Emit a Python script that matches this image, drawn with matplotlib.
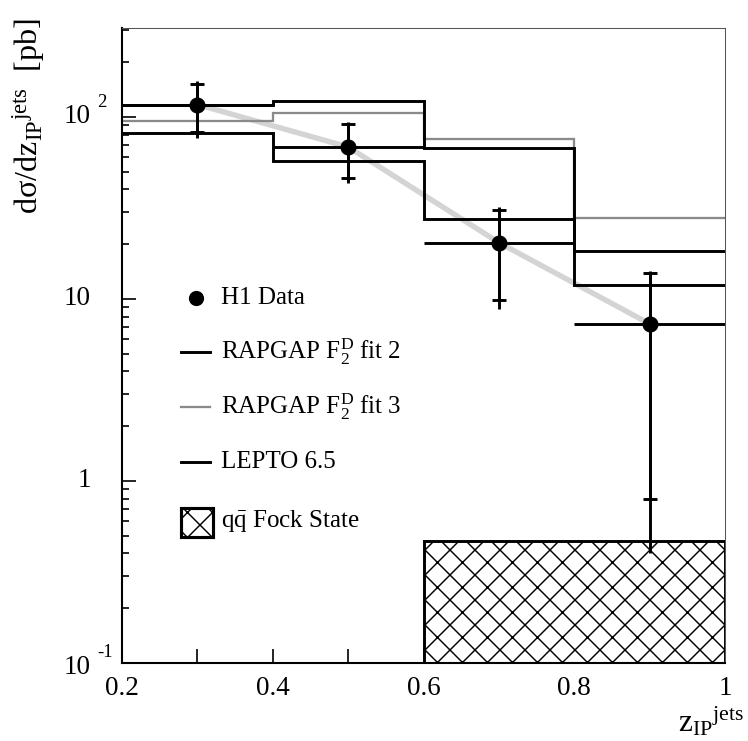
import matplotlib
matplotlib.use('Agg')
import matplotlib.pyplot as plt
from matplotlib.lines import Line2D
from matplotlib.patches import Rectangle
from matplotlib.ticker import LogLocator, NullFormatter

plt.rcParams['font.family'] = ['Liberation Serif', 'DejaVu Serif']
plt.rcParams['mathtext.fontset'] = 'custom'
plt.rcParams['mathtext.rm'] = 'Liberation Serif'
plt.rcParams['mathtext.it'] = 'Liberation Serif:italic'
plt.rcParams['hatch.linewidth'] = 0.7

# --- measured cross section, H1 ---
z_centres = [0.3, 0.5, 0.7, 0.9]
z_halfwidth = [0.1, 0.1, 0.1, 0.1]
h1_xsec = [117, 68.4, 20.4, 7.3]
h1_stat = [34, 22.5, 10.5, 6.5]
h1_tot = [40, 25, 11.6, 6.9]

# --- MC predictions (histograms) ---
bin_edges = [0.2, 0.4, 0.6, 0.8, 1.0]
rapgap_fit2 = [117, 122, 67.7, 12.0]
rapgap_fit3 = [95, 105, 75.4, 27.7]
lepto = [82, 57.3, 27.4, 18.4]
fock_edges = [0.6, 0.8, 1.0]
fock_xsec = [0.47, 0.47]

# --- axis ticks ---
xtick_major = [0.2, 0.4, 0.6, 0.8, 1.0]
xtick_labels = ['0.2', '0.4', '0.6', '0.8', '1']
xtick_minor = [0.3, 0.5, 0.7, 0.9]
ytick_vals = [0.1, 1, 10, 100]
ytick_base = ['10', '1', '10', '10']
ytick_exp = ['-1', '', '', '2']

W, H, DPI = 748, 741, 150


def fx(px):
    return px / W


def fy(py):
    return 1 - py / H


fig = plt.figure(figsize=(W / DPI, H / DPI), dpi=DPI)
ax = fig.add_axes([fx(122), fy(663), fx(725) - fx(122), fy(28) - fy(663)])
ax.set_yscale('log')
ax.set_xlim(0.2, 1.0)
ax.set_ylim(0.1, 308)

# grey band through the data points
ax.plot(z_centres, h1_xsec, color='#d4d4d4', lw=2.6, solid_capstyle='butt', zorder=1)

ax.stairs(rapgap_fit3, bin_edges, baseline=None, color='#8a8a8a', lw=1.1, zorder=2)
ax.stairs(rapgap_fit2, bin_edges, baseline=None, color='black', lw=1.4, zorder=3)
ax.stairs(lepto, bin_edges, baseline=None, color='black', lw=1.4, zorder=3)
ax.stairs(fock_xsec, fock_edges, baseline=0.1, fill=True, facecolor='white',
          edgecolor='black', hatch='xx', lw=1.4, zorder=2)

# total errors as plain lines, statistical errors with caps
ax.errorbar(z_centres, h1_xsec, xerr=z_halfwidth, yerr=h1_tot, fmt='none',
            ecolor='black', elinewidth=1.4, capsize=0, zorder=5)
ax.errorbar(z_centres, h1_xsec, yerr=h1_stat, fmt='o', color='black', ms=6.7,
            elinewidth=1.4, capsize=3.4, capthick=1.4, zorder=6)

for side in ['left', 'bottom']:
    ax.spines[side].set_linewidth(1.0)
for side in ['top', 'right']:
    ax.spines[side].set_linewidth(0.5)
    ax.spines[side].set_color('#555555')

ax.set_xticks(xtick_major)
ax.set_xticklabels(xtick_labels)
ax.set_xticks(xtick_minor, minor=True)
ax.tick_params(axis='x', which='both', direction='in', length=6.5, width=0.8,
               top=False, labelsize=13, pad=6)

ax.set_yticks(ytick_vals)
ax.set_yticklabels([])
ax.yaxis.set_minor_locator(LogLocator(base=10, subs=range(2, 10)))
ax.yaxis.set_minor_formatter(NullFormatter())
ax.tick_params(axis='y', which='major', direction='in', length=6.5, width=0.8, right=False)
ax.tick_params(axis='y', which='minor', direction='in', length=3.2, width=0.8, right=False)

for v, base, ex in zip(ytick_vals, ytick_base, ytick_exp):
    dy = -2 if v < 1 else 0
    ax.annotate(base, xy=(0, v), xycoords=('axes fraction', 'data'),
                xytext=(-15, dy), textcoords='offset points',
                ha='right', va='center', fontsize=13)
    if ex:
        ax.annotate(ex, xy=(0, v), xycoords=('axes fraction', 'data'),
                    xytext=(-12, dy + 7), textcoords='offset points',
                    ha='left', va='center', fontsize=9)

fig.text(fx(29), fy(116), 'd\u03c3/dz$_{\\mathrm{IP}}$$^{\\mathrm{jets}}$  [pb]',
         rotation=90, ha='center', va='center', fontsize=15.5)
fig.text(fx(744), fy(722), 'z$_{\\mathrm{IP}}$$^{\\mathrm{jets}}$',
         ha='right', va='center', fontsize=15)

# legend
fig.add_artist(Line2D([fx(196)], [fy(298)], marker='o', ms=6.3, color='black', ls='none'))
fig.text(fx(221), fy(298), 'H1 Data', va='center', fontsize=12)
legend_rows = [
    (352, 'black', 1.4, 'RAPGAP F$_2^{\\mathrm{D}}$ fit 2'),
    (407, '#8a8a8a', 1.1, 'RAPGAP F$_2^{\\mathrm{D}}$ fit 3'),
    (462, 'black', 1.4, 'LEPTO 6.5'),
]
for py, col, lw, label in legend_rows:
    fig.add_artist(Line2D([fx(181), fx(210)], [fy(py), fy(py)], color=col, lw=lw))
    fig.text(fx(221), fy(py), label, va='center', fontsize=12)
fig.add_artist(Rectangle((fx(181), fy(537)), fx(213) - fx(181), fy(508) - fy(537),
                         facecolor='white', edgecolor='black', hatch='xx', lw=1.5))
fig.text(fx(221), fy(522), 'q$\\bar{\\mathrm{q}}$ Fock State', va='center', fontsize=12)

fig.savefig('out.png', dpi=DPI)
